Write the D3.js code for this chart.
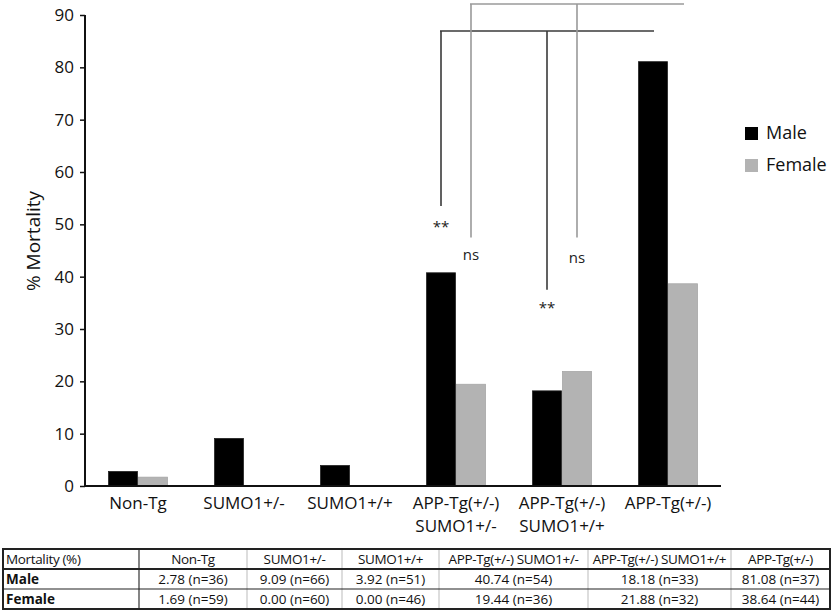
<!DOCTYPE html>
<meta charset="utf-8">
<head>
  <title>Mortality by genotype</title>
</head>

<style>
body {
  margin: 0;
  background: #fff;
  font-family: "Open Sans", sans-serif;
}
</style>

<body>
  <div id="content">
    <svg width="833" height="614"></svg>
  </div>

  <script src="https://cdnjs.cloudflare.com/ajax/libs/d3/7.8.5/d3.min.js"></script>

  <script>
// DATA
var groups = ['Non-Tg', 'SUMO1+/-', 'SUMO1+/+', 'APP-Tg(+/-) SUMO1+/-', 'APP-Tg(+/-) SUMO1+/+', 'APP-Tg(+/-)'];
var axisLabels = [['Non-Tg'], ['SUMO1+/-'], ['SUMO1+/+'], ['APP-Tg(+/-)', 'SUMO1+/-'], ['APP-Tg(+/-)', 'SUMO1+/+'], ['APP-Tg(+/-)']];
var series = ['Male', 'Female'];
var male = [2.78, 9.09, 3.92, 40.74, 18.18, 81.08];
var female = [1.69, 0.00, 0.00, 19.44, 21.88, 38.64];
var maleN = [36, 66, 51, 54, 33, 37];
var femaleN = [59, 60, 46, 36, 32, 44];
var yTicks = [0, 10, 20, 30, 40, 50, 60, 70, 80, 90];

// significance brackets: drops go down to a value on the y scale, labels sit under them
var brackets = [
  {series: 'Male', from: 3, to: 5, drops: [[3, 53.5], [4, 37.5]], labels: [[3, '**', 48.5], [4, '**', 33]]},
  {series: 'Female', from: 3, to: 5, drops: [[3, 47.5], [4, 47.5]], labels: [[3, 'ns', 43.2], [4, 'ns', 42.6]]}
];

var colours = {Male: '#000000', Female: '#b3b3b3'};
var bracketColours = {Male: '#3a3a3a', Female: '#9a9a9a'};

var svg = d3.select('svg');

var x = d3.scaleBand()
  .domain(groups)
  .range([85, 721])
  .paddingInner(0.434)
  .paddingOuter(0.217);

var xs = d3.scaleBand()
  .domain(series)
  .range([0, x.bandwidth()]);

var y = d3.scaleLinear()
  .domain([0, 90])
  .range([486, 15]);

var values = {Male: male, Female: female};

function barCentre(s, i) {
  return x(groups[i]) + xs(s) + xs.bandwidth() / 2;
}

// bars
series.forEach(function(s) {
  svg.append('g')
    .selectAll('rect')
    .data(values[s])
    .join('rect')
    .attr('x', function(d, i) { return x(groups[i]) + xs(s) + 0.5; })
    .attr('width', xs.bandwidth() - 1)
    .attr('y', function(d) { return y(d); })
    .attr('height', function(d) { return y(0) - y(d); })
    .attr('fill', colours[s])
    .attr('stroke', s === 'Male' ? '#222' : '#a6a6a6')
    .attr('stroke-width', 0.8)
    .attr('display', function(d) { return d > 0 ? null : 'none'; });
});

// y axis
var yAxis = svg.append('g')
  .attr('transform', 'translate(85,0)')
  .call(d3.axisLeft(y).tickValues(yTicks).tickSize(5).tickPadding(6));
yAxis.select('.domain').attr('stroke', '#111').attr('stroke-width', 2).attr('d', 'M0,' + y(90) + 'V' + y(0));
yAxis.selectAll('.tick line').attr('stroke', '#111').attr('stroke-width', 1.5);
yAxis.selectAll('.tick text')
  .attr('font-family', '"Open Sans", sans-serif')
  .attr('font-size', 17)
  .attr('fill', '#111');

// x axis line
svg.append('line')
  .attr('x1', 84).attr('x2', x.range()[1])
  .attr('y1', y(0)).attr('y2', y(0))
  .attr('stroke', '#111').attr('stroke-width', 2);

// x labels
var xl = svg.append('g')
  .selectAll('text')
  .data(axisLabels)
  .join('text')
  .attr('text-anchor', 'middle')
  .attr('font-size', 17)
  .attr('fill', '#111')
  .attr('transform', function(d, i) { return 'translate(' + (x(groups[i]) + x.bandwidth() / 2) + ',509)'; });
xl.selectAll('tspan')
  .data(function(d) { return d; })
  .join('tspan')
  .attr('x', 0)
  .attr('y', function(d, j) { return j * 23; })
  .text(function(d) { return d; });

// y label
svg.append('text')
  .attr('transform', 'translate(40,241) rotate(-90)')
  .attr('text-anchor', 'middle')
  .attr('font-size', 19)
  .attr('fill', '#111')
  .text('% Mortality');

// legend
var legend = svg.append('g')
  .selectAll('g')
  .data(series)
  .join('g')
  .attr('transform', function(d, i) { return 'translate(745,' + (127 + i * 32) + ')'; });
legend.append('rect')
  .attr('width', 13).attr('height', 13)
  .attr('fill', function(d) { return colours[d]; });
legend.append('text')
  .attr('x', 21).attr('y', 12)
  .attr('font-size', 18)
  .attr('fill', '#111')
  .text(function(d) { return d; });

// brackets
var bracketTop = {Male: 31, Female: 4};
brackets.forEach(function(b) {
  var g = svg.append('g')
    .attr('stroke', bracketColours[b.series])
    .attr('stroke-width', 1.6)
    .attr('fill', 'none');
  g.append('line')
    .attr('x1', barCentre(b.series, b.from) - 1)
    .attr('x2', barCentre(b.series, b.to) + 1)
    .attr('y1', bracketTop[b.series]).attr('y2', bracketTop[b.series]);
  g.selectAll('line.drop')
    .data(b.drops)
    .join('line')
    .attr('class', 'drop')
    .attr('x1', function(d) { return barCentre(b.series, d[0]); })
    .attr('x2', function(d) { return barCentre(b.series, d[0]); })
    .attr('y1', bracketTop[b.series])
    .attr('y2', function(d) { return y(d[1]); });
  svg.append('g')
    .selectAll('text')
    .data(b.labels)
    .join('text')
    .attr('x', function(d) { return barCentre(b.series, d[0]); })
    .attr('y', function(d) { return y(d[2]); })
    .attr('text-anchor', 'middle')
    .attr('font-size', 15)
    .attr('fill', '#222')
    .text(function(d) { return d[1]; });
});

// table
var colEdges = [3, 139, 247, 342, 439, 588, 731, 830];
var rowEdges = [549, 569, 589, 609];
var tableRows = [
  ['Mortality (%)'].concat(groups),
  ['Male'].concat(male.map(function(v, i) { return v.toFixed(2) + ' (n=' + maleN[i] + ')'; })),
  ['Female'].concat(female.map(function(v, i) { return v.toFixed(2) + ' (n=' + femaleN[i] + ')'; }))
];

var table = svg.append('g').attr('font-family', '"Open Sans", sans-serif');

table.selectAll('line.col')
  .data(colEdges.slice(1, -1))
  .join('line')
  .attr('class', 'col')
  .attr('x1', function(d) { return d; }).attr('x2', function(d) { return d; })
  .attr('y1', rowEdges[0]).attr('y2', rowEdges[3])
  .attr('stroke', function(d, i) { return i === 0 ? '#333' : '#bbb'; })
  .attr('stroke-width', function(d, i) { return i === 0 ? 1.2 : 1; });

table.selectAll('line.row')
  .data(rowEdges.slice(1, -1))
  .join('line')
  .attr('class', 'row')
  .attr('x1', colEdges[0]).attr('x2', colEdges[7])
  .attr('y1', function(d) { return d; }).attr('y2', function(d) { return d; })
  .attr('stroke', '#222')
  .attr('stroke-width', function(d, i) { return i === 0 ? 1.8 : 1.2; });

table.append('rect')
  .attr('x', colEdges[0]).attr('y', rowEdges[0])
  .attr('width', colEdges[7] - colEdges[0])
  .attr('height', rowEdges[3] - rowEdges[0])
  .attr('fill', 'none')
  .attr('stroke', '#222')
  .attr('stroke-width', 2);

tableRows.forEach(function(row, r) {
  table.append('g')
    .selectAll('text')
    .data(row)
    .join('text')
    .attr('x', function(d, c) { return c === 0 ? colEdges[0] + 3 : (colEdges[c] + colEdges[c + 1]) / 2; })
    .attr('y', rowEdges[r] + 15)
    .attr('text-anchor', function(d, c) { return c === 0 ? 'start' : 'middle'; })
    .attr('font-size', 13.5)
    .attr('letter-spacing', r === 0 ? -0.35 : 0)
    .attr('font-weight', function(d, c) { return c === 0 && r > 0 ? 'bold' : 'normal'; })
    .attr('fill', '#111')
    .text(function(d) { return d; });
});
  </script>
</body>
</html>
